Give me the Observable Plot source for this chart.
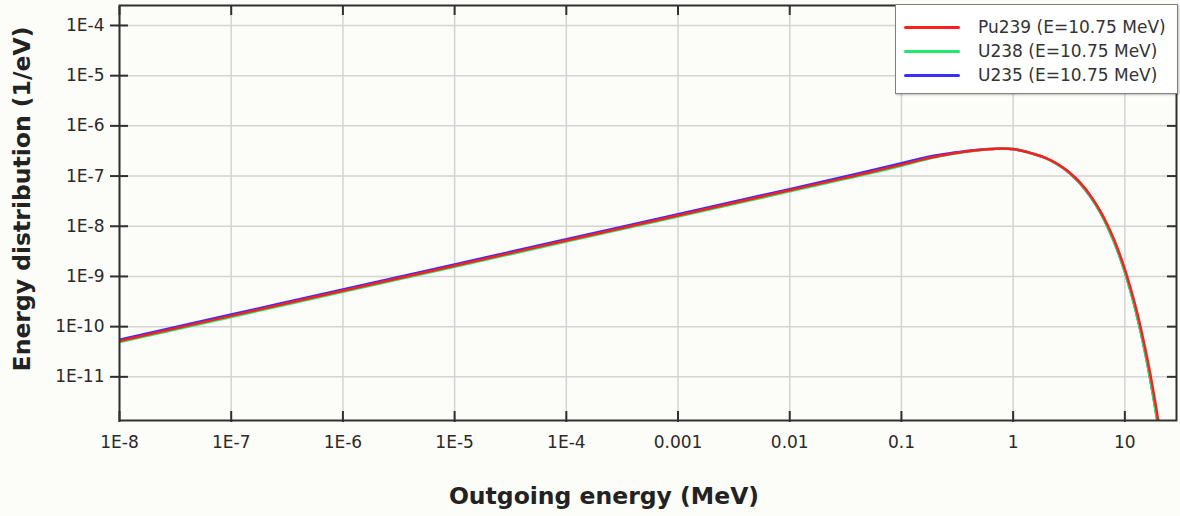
<!DOCTYPE html>
<html><head><meta charset="utf-8">
<script src="https://cdn.jsdelivr.net/npm/d3@7"></script>
<script src="https://cdn.jsdelivr.net/npm/@observablehq/plot@0.6"></script>
<style>
html,body{margin:0;padding:0;background:#fcfcf8;}
#wrap{position:relative;width:1180px;height:516px;font-family:"DejaVu Sans",sans-serif;overflow:hidden;}
#chart svg{display:block;}
.ytitle{position:absolute;left:22px;top:199px;transform:translate(-50%,-50%) rotate(-90deg);font-weight:bold;font-size:23.5px;white-space:nowrap;color:#222;}
.xtitle{position:absolute;left:604px;top:496px;transform:translate(-50%,-50%);font-weight:bold;font-size:23.5px;white-space:nowrap;color:#222;}
#legend{position:absolute;left:895px;top:4px;width:283px;height:90px;background:#fff;border:1.5px solid #808080;box-sizing:border-box;box-shadow:1px 1px 2px rgba(0,0,0,0.25);}
.row{position:absolute;left:0;height:24px;display:flex;align-items:center;}
.sw{position:absolute;left:8px;width:56px;height:3px;border-radius:2px;}
.lt{position:absolute;left:82px;font-size:17px;color:#333;white-space:nowrap;line-height:20px;}
</style>
</head><body>
<div id="wrap">
  <div id="chart"></div>
  <div class="ytitle">Energy distribution (1/eV)</div>
  <div class="xtitle">Outgoing energy (MeV)</div>
  <div id="legend"></div>
</div>
<script>
// Outgoing energy (MeV)
const energies = [1e-8, 1e-7, 1e-6, 1e-5, 1e-4, 1e-3, 0.01, 0.03, 0.05, 0.1, 0.15, 0.2, 0.3, 0.4, 0.5, 0.6, 0.7, 0.8, 0.9, 1.0, 1.2, 1.5, 2, 2.5, 3, 3.5, 4, 5, 6, 7, 8, 9, 10, 11, 12, 13, 14, 15, 16, 17, 18, 19, 20, 21];
// Energy distribution (1/eV)
const pu239 = [5.2e-11, 1.64e-10, 5.2e-10, 1.64e-9, 5.2e-9, 1.64e-8, 5.2e-8, 9.0e-8, 1.16e-7, 1.68e-7, 2.1e-7, 2.42e-7, 2.85e-7, 3.13e-7, 3.3e-7, 3.42e-7, 3.5e-7, 3.53e-7, 3.52e-7, 3.45e-7, 3.2e-7, 2.8e-7, 2.25e-7, 1.74e-7, 1.32e-7, 9.8e-8, 7.3e-8, 3.9e-8, 2.05e-8, 1.06e-8, 5.45e-9, 2.77e-9, 1.4e-9, 7.0e-10, 3.52e-10, 1.76e-10, 8.7e-11, 4.3e-11, 2.14e-11, 1.06e-11, 5.2e-12, 2.58e-12, 1.27e-12, 6.2e-13];
const u238 = [4.95e-11, 1.56e-10, 4.95e-10, 1.56e-9, 4.95e-9, 1.56e-8, 4.95e-8, 8.6e-8, 1.11e-7, 1.61e-7, 2.03e-7, 2.36e-7, 2.8e-7, 3.1e-7, 3.28e-7, 3.41e-7, 3.5e-7, 3.54e-7, 3.53e-7, 3.46e-7, 3.2e-7, 2.79e-7, 2.23e-7, 1.71e-7, 1.29e-7, 9.5e-8, 7.0e-8, 3.68e-8, 1.9e-8, 9.6e-9, 4.85e-9, 2.44e-9, 1.22e-9, 6.0e-10, 2.96e-10, 1.46e-10, 7.1e-11, 3.45e-11, 1.68e-11, 8.1e-12, 3.9e-12, 1.9e-12, 9.1e-13, 4.4e-13];
const u235 = [5.5e-11, 1.74e-10, 5.5e-10, 1.74e-9, 5.5e-9, 1.74e-8, 5.5e-8, 9.6e-8, 1.25e-7, 1.8e-7, 2.24e-7, 2.56e-7, 2.95e-7, 3.21e-7, 3.36e-7, 3.45e-7, 3.5e-7, 3.52e-7, 3.5e-7, 3.43e-7, 3.18e-7, 2.78e-7, 2.22e-7, 1.71e-7, 1.29e-7, 9.5e-8, 7.0e-8, 3.7e-8, 1.93e-8, 9.8e-9, 4.95e-9, 2.48e-9, 1.24e-9, 6.1e-10, 3.0e-10, 1.48e-10, 7.2e-11, 3.5e-11, 1.71e-11, 8.3e-12, 4.0e-12, 1.95e-12, 9.4e-13, 4.5e-13];

const seriesNames = ["Pu239 (E=10.75 MeV)", "U238 (E=10.75 MeV)", "U235 (E=10.75 MeV)"];
const seriesColors = ["#ff1f1a", "#1fe86c", "#3b2cff"];

const xTicks = [1e-8, 1e-7, 1e-6, 1e-5, 1e-4, 1e-3, 0.01, 0.1, 1, 10];
const xTickLabels = ["1E-8", "1E-7", "1E-6", "1E-5", "1E-4", "0.001", "0.01", "0.1", "1", "10"];
const yTicks = [1e-4, 1e-5, 1e-6, 1e-7, 1e-8, 1e-9, 1e-10, 1e-11];
const yTickLabels = ["1E-4", "1E-5", "1E-6", "1E-7", "1E-8", "1E-9", "1E-10", "1E-11"];

const seriesValues = [pu239, u238, u235];
const rows = [];
// draw order: U235, U238, Pu239 (red on top)
[2, 1, 0].forEach(k => {
  energies.forEach((e, i) => rows.push({E: e, f: seriesValues[k][i], series: seriesNames[k]}));
});

const xLab = new Map(xTicks.map((t, i) => [t, xTickLabels[i]]));
const yLab = new Map(yTicks.map((t, i) => [t, yTickLabels[i]]));
const blank = () => "";

const chart = Plot.plot({
  width: 1180,
  height: 516,
  marginLeft: 119,
  marginRight: 4,
  marginTop: 5,
  marginBottom: 96,
  style: {background: "transparent", fontFamily: "DejaVu Sans, sans-serif", fontSize: "17px", color: "#2a2a2a"},
  x: {type: "log", domain: [1e-8, 29]},
  y: {type: "log", domain: [1.35e-12, 2.5e-4]},
  color: {domain: seriesNames, range: seriesColors},
  marks: [
    Plot.gridX(xTicks, {stroke: "#d4d4d4", strokeOpacity: 1, strokeWidth: 1.5}),
    Plot.gridY(yTicks, {stroke: "#d4d4d4", strokeOpacity: 1, strokeWidth: 1.5}),
    Plot.line(rows, {x: "E", y: "f", z: "series", stroke: "series", strokeWidth: 2.5, clip: true, curve: "monotone-x"}),
    Plot.frame({stroke: "#303030", strokeWidth: 2}),
    Plot.axisX(xTicks, {anchor: "bottom", tickSize: 2, tickPadding: 13, tickFormat: d => xLab.get(d), label: null, stroke: "#303030", strokeWidth: 2, fontSize: 17}),
    Plot.axisX(xTicks, {anchor: "bottom", tickSize: -9, tickFormat: blank, label: null, stroke: "#303030", strokeWidth: 2}),
    Plot.axisX(xTicks, {anchor: "top", tickSize: -9, tickFormat: blank, label: null, stroke: "#303030", strokeWidth: 2}),
    Plot.axisY(yTicks, {anchor: "left", tickSize: 9, tickPadding: 6, tickFormat: d => yLab.get(d), label: null, stroke: "#303030", strokeWidth: 2, fontSize: 17}),
    Plot.axisY(yTicks, {anchor: "left", tickSize: -9, tickFormat: blank, label: null, stroke: "#303030", strokeWidth: 2}),
    Plot.axisY(yTicks, {anchor: "right", tickSize: -10, tickFormat: blank, label: null, stroke: "#303030", strokeWidth: 2})
  ]
});
document.getElementById("chart").appendChild(chart);

const legend = document.getElementById("legend");
seriesNames.forEach((name, i) => {
  const row = document.createElement("div");
  row.className = "row";
  row.style.top = (10 + i * 24) + "px";
  row.style.width = "100%";
  const sw = document.createElement("div");
  sw.className = "sw";
  sw.style.background = seriesColors[i];
  const lt = document.createElement("div");
  lt.className = "lt";
  lt.textContent = name;
  row.appendChild(sw);
  row.appendChild(lt);
  legend.appendChild(row);
});
</script>
</body></html>
